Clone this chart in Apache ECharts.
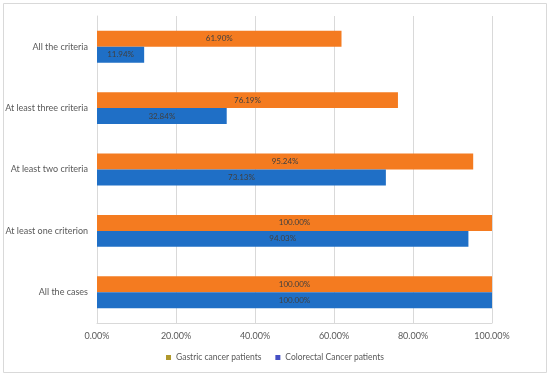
<!DOCTYPE html>
<html><head><meta charset="utf-8">
<script src="https://cdn.jsdelivr.net/npm/echarts@6/dist/echarts.min.js"></script>
<style>html,body{margin:0;padding:0;background:#fff}#c{width:550px;height:377px}</style>
</head><body><div id="c"></div>
<script>
const categories = ["All the cases", "At least one criterion", "At least two criteria", "At least three criteria", "All the criteria"];
const gastric = [100.00, 100.00, 95.24, 76.19, 61.90];
const colorectal = [100.00, 94.03, 73.13, 32.84, 11.94];
const xTicks = [0, 20, 40, 60, 80, 100];
const seriesNames = ["Gastric cancer patients", "Colorectal Cancer patients"];

const chart = echarts.init(document.getElementById('c'));
const font = 'Lato, "Open Sans", sans-serif';
const lbl = {show: true, position: 'inside', formatter: p => p.value.toFixed(2) + '%', color: '#404040', fontSize: 8, fontFamily: font};
chart.setOption({
  animation: false,
  graphic: [{type: 'rect', shape: {x: 3.5, y: 3.5, width: 543, height: 369}, style: {fill: 'none', stroke: '#d9d9d9', lineWidth: 1}}],
  grid: {left: 97, right: 58, top: 16, bottom: 54},
  legend: {
    bottom: 10, left: 'center', itemWidth: 5, itemHeight: 5, itemGap: 14,
    icon: 'rect',
    textStyle: {color: '#595959', fontSize: 8.5, fontFamily: font},
    data: [
      {name: seriesNames[0], itemStyle: {color: '#B0982C'}},
      {name: seriesNames[1], itemStyle: {color: '#4650C4'}}
    ]
  },
  xAxis: {
    type: 'value', min: xTicks[0], max: xTicks[xTicks.length - 1], interval: 20,
    axisLabel: {formatter: v => v.toFixed(2) + '%', color: '#595959', fontSize: 9, fontFamily: font, margin: 9},
    splitLine: {lineStyle: {color: '#d9d9d9'}},
    axisLine: {show: true, lineStyle: {color: '#d9d9d9'}}, axisTick: {show: false}
  },
  yAxis: {
    type: 'category', data: categories,
    axisLabel: {color: '#595959', fontSize: 9, fontFamily: font, margin: 9},
    axisLine: {show: true, lineStyle: {color: '#d9d9d9'}},
    axisTick: {show: false}
  },
  series: [
    {name: seriesNames[0], type: 'bar', data: gastric, barGap: '0%', barCategoryGap: '48%',
     itemStyle: {color: '#F47B20'}, label: lbl},
    {name: seriesNames[1], type: 'bar', data: colorectal, barGap: '0%', barCategoryGap: '48%',
     itemStyle: {color: '#1F6FC6'}, label: lbl}
  ]
});
</script></body></html>
